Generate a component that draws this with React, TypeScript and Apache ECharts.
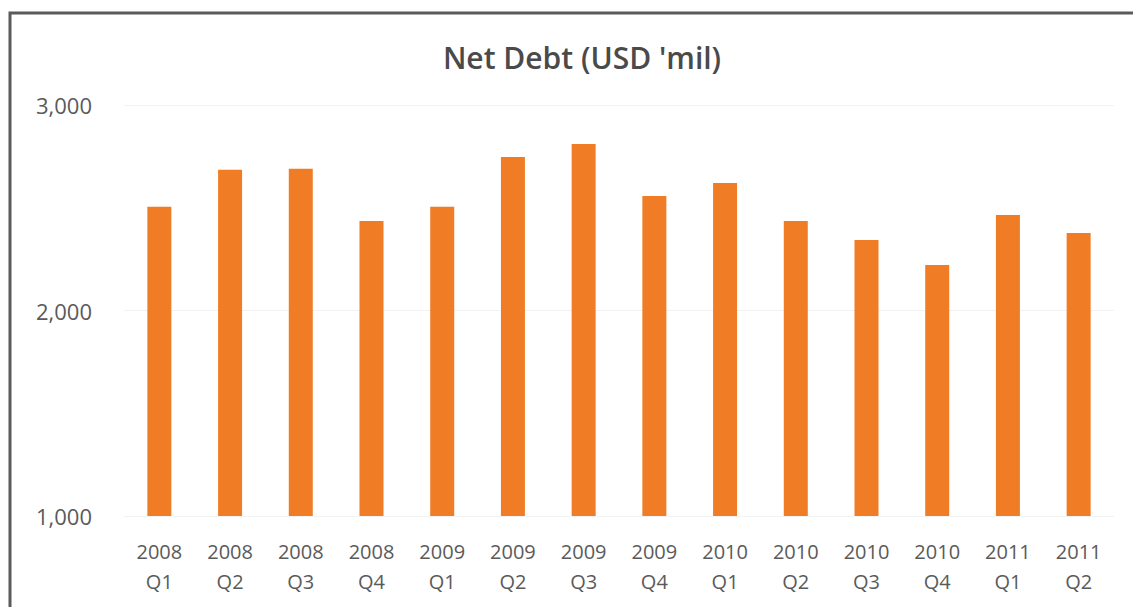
import React, { useEffect, useRef } from "react";
import * as echarts from "echarts";

const title = "Net Debt (USD 'mil)";
const categories = [
  "2008\nQ1", "2008\nQ2", "2008\nQ3", "2008\nQ4",
  "2009\nQ1", "2009\nQ2", "2009\nQ3", "2009\nQ4",
  "2010\nQ1", "2010\nQ2", "2010\nQ3", "2010\nQ4",
  "2011\nQ1", "2011\nQ2",
];
const netDebt = [2505, 2685, 2690, 2436, 2505, 2747, 2810, 2557, 2620, 2436, 2343, 2221, 2465, 2377];
const yTicks = [1000, 2000, 3000];

export default function App() {
  const ref = useRef<HTMLDivElement>(null);
  useEffect(() => {
    if (!ref.current) return;
    const chart = echarts.init(ref.current, null, { renderer: "svg" });
    chart.setOption({
      animation: false,
      backgroundColor: "#ffffff",
      title: {
        text: title,
        left: 577,
        top: 37,
        textAlign: "center",
        textStyle: { fontFamily: "Open Sans", fontWeight: 600, fontSize: 30, color: "#4a4a4a" },
      },
      graphic: [
        {
          type: "rect",
          shape: { x: 10, y: 13, width: 1300, height: 800 },
          style: { fill: "none", stroke: "#5a5a5a", lineWidth: 3 },
          silent: true,
        },
      ],
      grid: { left: 124, right: 19, top: 105, bottom: 91 },
      xAxis: {
        type: "category",
        data: categories,
        axisLine: { show: false },
        axisTick: { show: false },
        axisLabel: {
          color: "#5a5a5a",
          fontFamily: "Open Sans",
          fontSize: 20,
          lineHeight: 30,
          margin: 20,
          interval: 0,
        },
      },
      yAxis: {
        type: "value",
        min: yTicks[0],
        max: yTicks[yTicks.length - 1],
        interval: 1000,
        axisLine: { show: false },
        axisTick: { show: false },
        splitLine: { lineStyle: { color: "#f2f2f2", width: 1 } },
        axisLabel: {
          color: "#5a5a5a",
          fontFamily: "Open Sans",
          fontSize: 22,
          margin: 32,
          formatter: (v: number) => v.toLocaleString("en-US"),
        },
      },
      series: [
        {
          type: "bar",
          data: netDebt,
          barWidth: 24,
          itemStyle: { color: "#F07D25" },
        },
      ],
    });
    return () => chart.dispose();
  }, []);
  return (
    <div
      ref={ref}
      style={{ position: "fixed", left: 0, top: 0, width: 1133, height: 607 }}
    />
  );
}
